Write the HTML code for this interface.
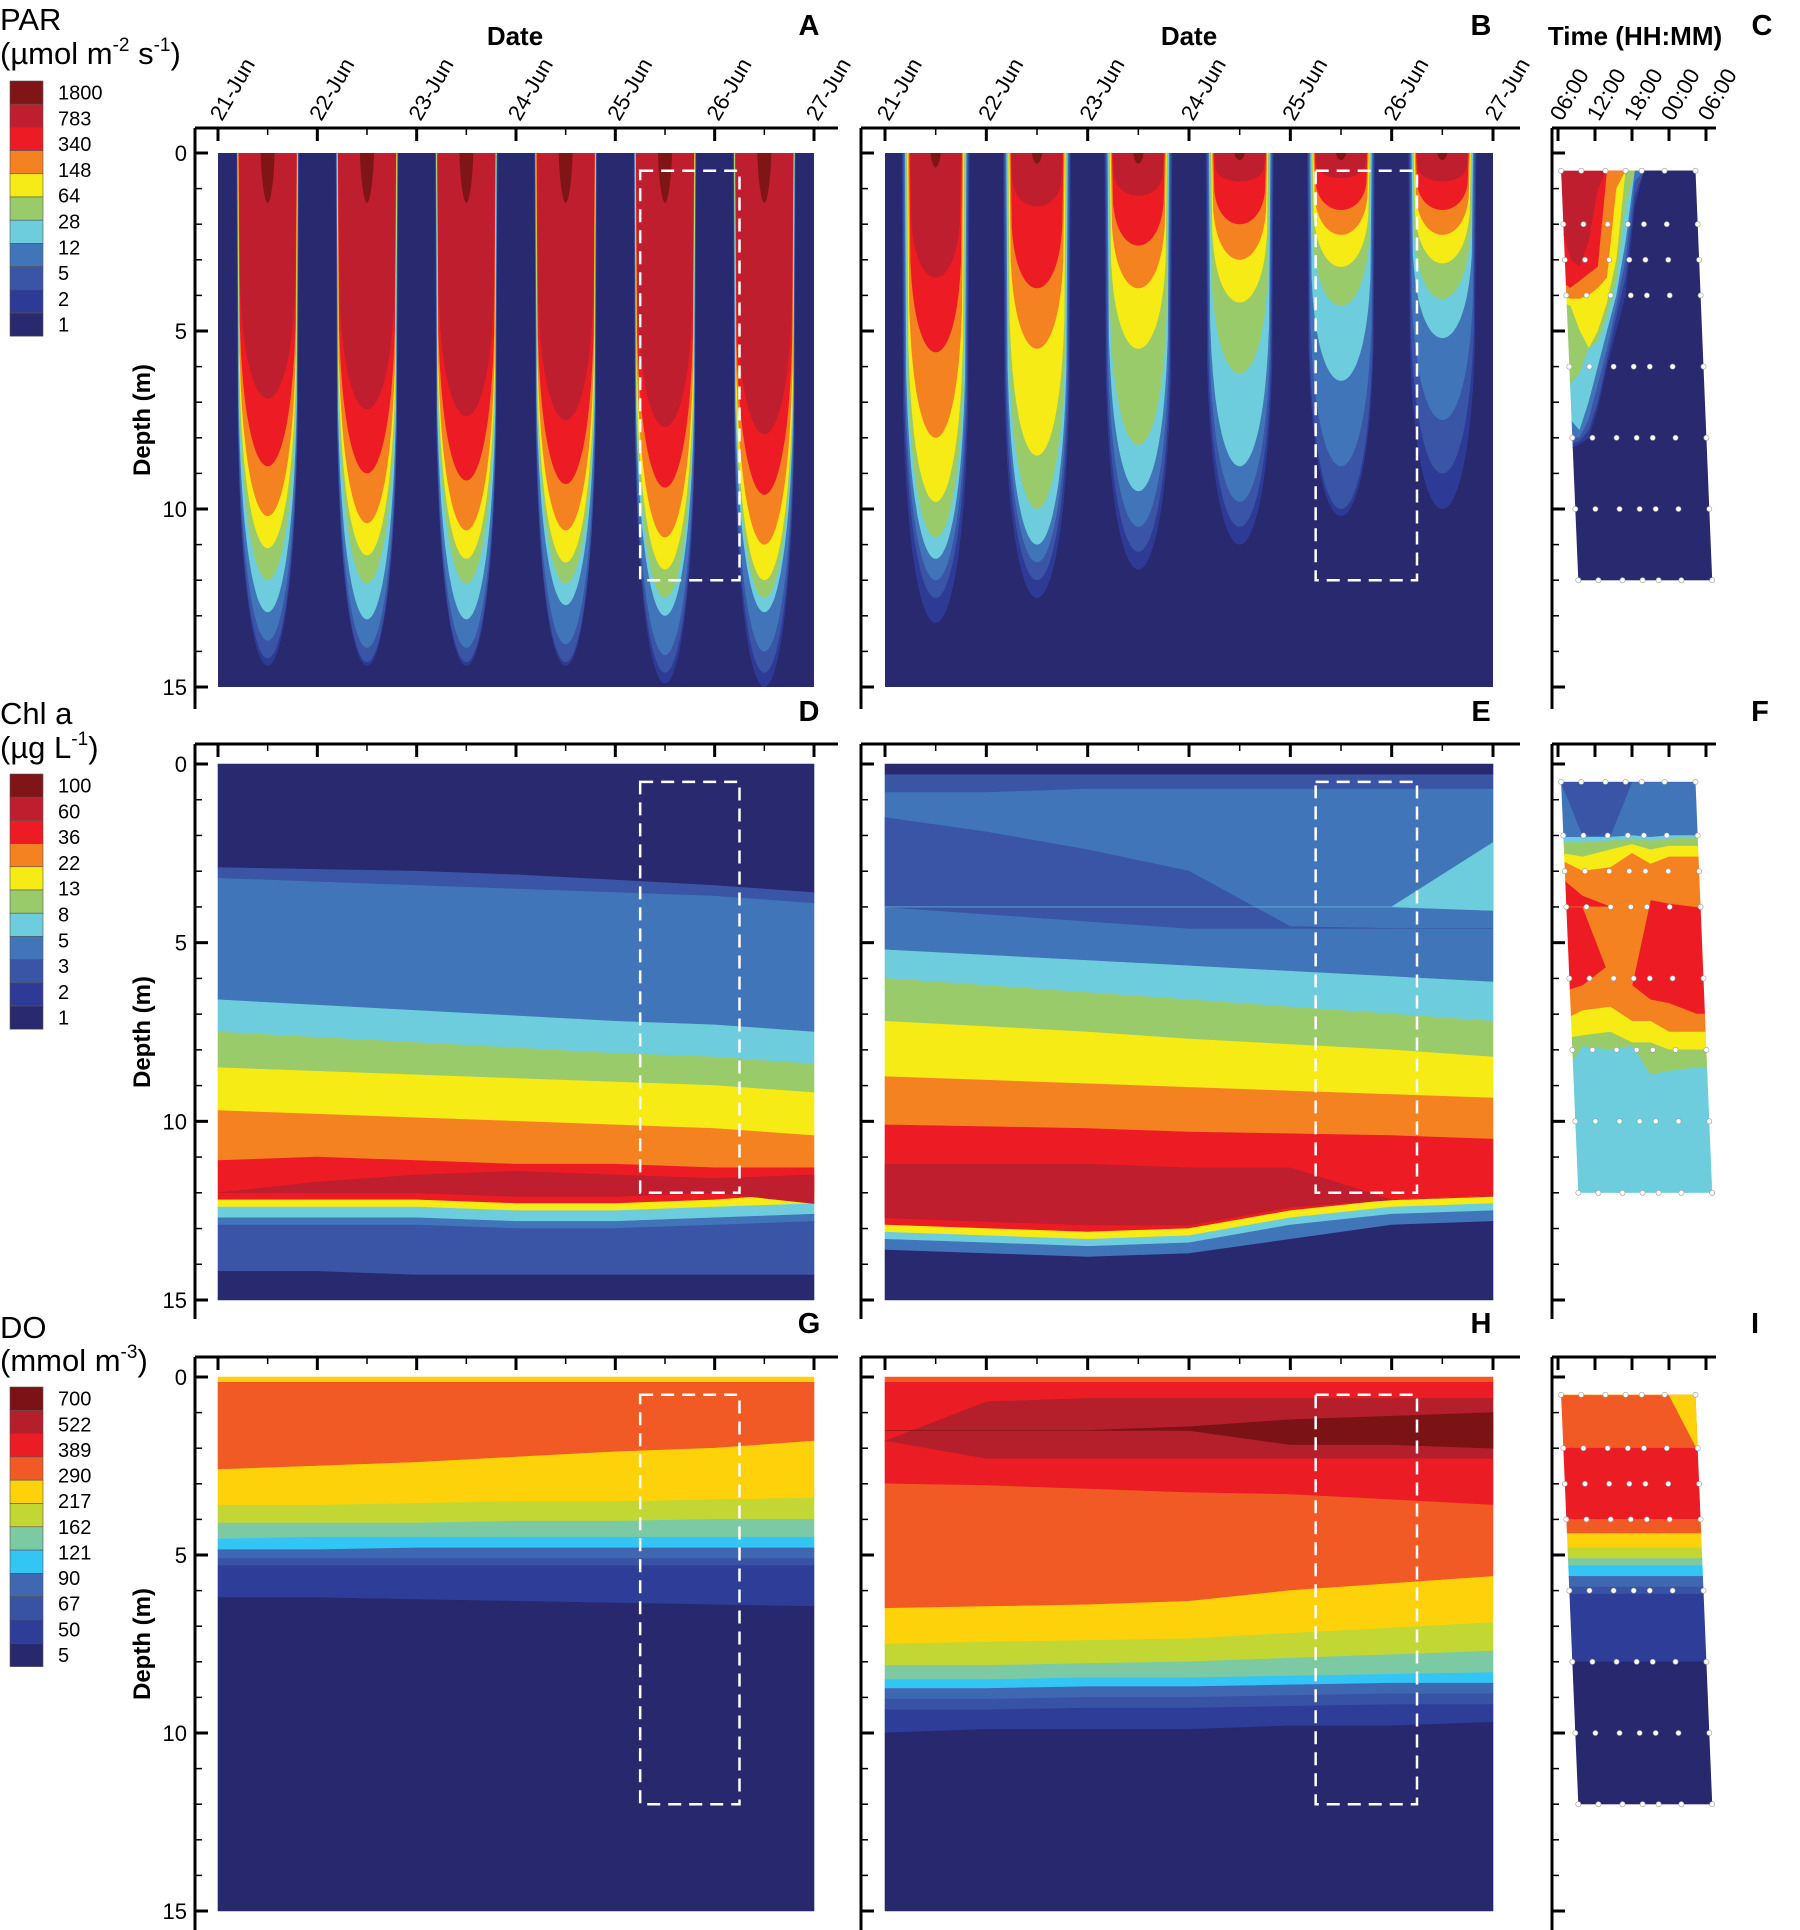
<!DOCTYPE html>
<html><head><meta charset="utf-8">
<style>
html,body{margin:0;padding:0;background:#fff;}
svg{display:block;font-family:"Liberation Sans",Arial,sans-serif;}
</style></head>
<body>
<svg id="fig" width="1800" height="1930" viewBox="0 0 1800 1930" xmlns="http://www.w3.org/2000/svg"></svg>
<script>
// ---------- DATA ----------
const parLabels = ["1800","783","340","148","64","28","12","5","2","1"];
const chlLabels = ["100","60","36","22","13","8","5","3","2","1"];
const doLabels = ["700","522","389","290","217","162","121","90","67","50","5"];
const parColors = ["#7f1517","#be1e2d","#ed1c24","#f58220","#f6eb14","#9acb6a","#6dcddc","#4175b9","#3a55a5","#2e3b96","#28296f"];
const chlColors = parColors;
const doColors = ["#7b1216","#b41f2b","#ec1c24","#f15a24","#fdd20a","#c2d733","#7ccaa4","#33c5f3","#4067b1","#3953a4","#2d3d98","#27286e"];
const dateLabels = ["21-Jun","22-Jun","23-Jun","24-Jun","25-Jun","26-Jun","27-Jun"];
const timeLabels = ["06:00","12:00","18:00","00:00","06:00"];
const depthTicks = [0,5,10,15];
const days = [0,1,2,3,4,5,6];
// PAR noon penetration depth (m) of each contour level, per day (levels 1800..1)
const parA = [
 [1.4,6.9,8.8,10.2,11.1,12.0,12.9,13.7,14.2,14.4],
 [1.4,7.2,9.0,10.4,11.3,12.1,13.1,13.9,14.3,14.4],
 [1.4,7.4,9.2,10.6,11.4,12.1,13.1,13.9,14.3,14.4],
 [1.4,7.5,9.3,10.6,11.5,12.1,12.7,13.8,14.3,14.4],
 [1.4,7.7,9.4,10.8,11.7,12.5,13.0,14.1,14.6,14.9],
 [1.4,7.9,9.6,11.0,12.0,12.5,12.9,14.0,14.6,15.0]
];
const parB = [
 [0.4,3.5,5.6,8.0,9.8,10.8,11.4,12.0,12.5,13.2],
 [0.3,1.5,3.8,5.5,8.5,10.0,11.0,11.5,12.0,12.5],
 [0.3,1.2,2.6,3.8,5.5,8.2,9.5,10.5,11.2,11.7],
 [0.2,0.8,2.0,3.0,4.2,6.2,8.8,9.8,10.5,11.0],
 [0.2,0.7,1.6,2.3,3.2,4.3,6.4,8.8,10.0,10.2],
 [0.2,0.8,1.6,2.3,3.1,4.1,5.2,7.5,9.0,10.0]
];
// Chl panel D: band lower boundaries (depth at each day) and colours
const chlDBands = [10,8,7,6,5,4,3,2,4,6,7,8,10];
const chlDBounds = [
 [2.9,2.95,3.0,3.1,3.25,3.4,3.6],
 [3.2,3.3,3.4,3.5,3.6,3.7,3.9],
 [6.6,6.75,6.9,7.05,7.2,7.3,7.5],
 [7.5,7.65,7.8,7.95,8.1,8.2,8.4],
 [8.5,8.6,8.7,8.8,8.9,9.0,9.2],
 [9.7,9.8,9.9,10.0,10.1,10.2,10.4],
 [11.1,11.0,11.1,11.2,11.2,11.3,11.3],
 [12.2,12.2,12.2,12.3,12.3,12.2,12.0],
 [12.4,12.4,12.4,12.5,12.5,12.4,12.3],
 [12.7,12.7,12.7,12.8,12.8,12.7,12.6],
 [12.9,12.9,12.9,13.0,13.0,12.9,12.8],
 [14.2,14.2,14.3,14.3,14.3,14.3,14.3]
];
const chlDPatchTop = [12.0,11.7,11.5,11.4,11.5,11.6,11.5];
const chlDPatchBot = [12.0,12.0,12.0,12.1,12.1,12.0,12.3];
const chlEBands = [10,8,7,6,5,4,3,2,4,6,7,10];
const chlEBounds = [
 [0.3,0.3,0.3,0.3,0.3,0.3,0.3],
 [0.8,0.8,0.7,0.7,0.7,0.7,0.7],
 [5.2,5.35,5.5,5.65,5.8,5.95,6.1],
 [6.0,6.2,6.4,6.6,6.8,7.0,7.2],
 [7.2,7.35,7.5,7.7,7.85,8.0,8.2],
 [8.75,8.85,8.95,9.05,9.15,9.25,9.35],
 [10.1,10.15,10.2,10.3,10.35,10.4,10.5],
 [12.9,13.0,13.1,13.0,12.5,12.2,12.1],
 [13.1,13.2,13.3,13.2,12.7,12.4,12.3],
 [13.3,13.4,13.5,13.4,12.9,12.6,12.5],
 [13.6,13.7,13.8,13.7,13.3,12.9,12.8]
];
const chlEPatchRedTop = [11.2,11.2,11.2,11.3,11.3,12.2,12.1];
const chlEPatchRedBot = [12.7,12.8,12.9,12.9,12.4,12.2,12.1];
const chlEPatchWedgeTop = [1.5,1.9,2.4,3.0,4.55,4.6,4.6];
const chlEPatchWedgeBot = [4.0,4.2,4.4,4.6,4.6,4.6,4.6];
const chlEPatchCyanTop = [4,4,4,4,4,4,2.2];
const chlEPatchCyanBot = [4,4,4,4,4,4,4.1];
// DO panels G/H
const doGBands = [4,3,4,5,6,7,8,9,10,11];
const doGBounds = [
 [0.15,0.15,0.15,0.15,0.15,0.15,0.15],
 [2.6,2.5,2.4,2.25,2.1,2.0,1.8],
 [3.6,3.6,3.55,3.5,3.5,3.45,3.4],
 [4.1,4.1,4.1,4.05,4.05,4.0,4.0],
 [4.55,4.5,4.5,4.5,4.5,4.5,4.5],
 [4.85,4.85,4.8,4.8,4.8,4.8,4.8],
 [5.1,5.1,5.1,5.1,5.1,5.1,5.1],
 [5.3,5.3,5.3,5.3,5.3,5.3,5.3],
 [6.2,6.2,6.25,6.3,6.35,6.4,6.45]
];
const doHBands = [3,2,1,2,3,4,5,6,7,8,9,10,11];
const doHBounds = [
 [0.15,0.15,0.15,0.15,0.15,0.15,0.15],
 [1.8,0.7,0.6,0.6,0.6,0.6,0.6],
 [1.8,2.3,2.3,2.3,2.3,2.3,2.3],
 [3.0,3.05,3.15,3.25,3.3,3.45,3.6],
 [6.5,6.45,6.4,6.3,6.0,5.8,5.6],
 [7.5,7.45,7.4,7.35,7.2,7.05,6.9],
 [8.1,8.1,8.05,8.0,7.9,7.8,7.7],
 [8.5,8.5,8.45,8.45,8.4,8.35,8.3],
 [8.75,8.75,8.7,8.7,8.65,8.6,8.6],
 [9.05,9.05,9.0,9.0,8.95,8.9,8.9],
 [9.35,9.35,9.3,9.3,9.25,9.2,9.2],
 [10.0,9.9,9.9,9.9,9.8,9.8,9.7]
];
const doHPatchTop = [1.5,1.5,1.5,1.4,1.2,1.1,1.0];
const doHPatchBot = [1.5,1.5,1.5,1.5,1.9,1.9,2.0];
// Profile panels (hours since 00:00 day 1)
const hoursC = [6.5,8,9.5,11,12.5,14,15.5,17,18.5,20,31];
const parCBands = [1,2,3,4,5,6,7,8,9,10];
const parCBounds = [
 [2.0,3.0,3.2,2.5,1.0,0.5,0.5,0.5,0.5,0.5,0.5],
 [3.6,3.8,3.6,3.4,3.2,0.5,0.5,0.5,0.5,0.5,0.5],
 [4.0,4.1,4.1,4.0,3.8,3.5,1.0,0.5,0.5,0.5,0.5],
 [4.2,4.3,5.0,5.5,5.0,4.2,3.0,0.5,0.5,0.5,0.5],
 [5.0,6.5,6.2,5.5,5.3,4.6,3.6,1.5,0.5,0.5,0.5],
 [6.5,7.5,7.8,7.0,6.0,5.0,4.0,2.5,0.5,0.5,0.5],
 [7.5,8.0,8.0,7.5,6.5,5.5,4.3,3.0,0.8,0.5,0.5],
 [7.8,8.2,8.1,7.8,7.0,5.8,4.6,3.5,1.2,0.5,0.5],
 [8.0,8.3,8.2,8.0,7.2,6.0,5.0,4.0,1.5,0.5,0.5]
];
const hoursF = [6.5,10,14.5,18,21,24,28.5,31];
const chlFBands = [7,6,5,4,3,2,3,4,5,6];
const chlFBounds = [
 [2.05,2.05,2.05,2.0,2.05,2.0,2.0,2.0],
 [2.2,2.2,2.15,2.1,2.15,2.1,2.05,2.05],
 [2.5,2.6,2.4,2.25,2.4,2.3,2.3,2.3],
 [2.7,3.0,2.9,2.5,2.8,2.6,2.6,2.6],
 [3.2,3.7,4.0,3.8,3.8,3.9,4.0,4.0],
 [6.4,6.2,5.6,6.2,6.6,6.7,7.0,7.0],
 [7.2,6.9,6.8,7.2,7.2,7.5,7.5,7.5],
 [7.7,7.6,7.5,7.8,7.8,8.0,8.0,8.0],
 [8.8,7.9,8.0,7.9,8.7,8.6,8.5,8.5]
];
const chlFPatchBlueBot = [0.5,2.0,2.0,0.5,0.5,0.5,0.5,0.5];
const chlFPatchOrTop = [4.0,4.0,4.0,3.8,3.8,3.9,4.0,4.0];
const chlFPatchOrBot = [4.0,4.0,6.0,6.2,3.8,3.9,4.0,4.0];
const doIBands = [3,2,3,4,5,6,7,8,9,10,11];
const doIBounds = [
 [2.0,2.0,2.0,2.0,2.0,2.0,2.0,2.0],
 [4.0,4.0,4.0,4.0,4.0,4.0,4.0,4.0],
 [4.4,4.4,4.4,4.4,4.4,4.4,4.4,4.4],
 [4.8,4.8,4.8,4.8,4.8,4.8,4.8,4.8],
 [5.1,5.1,5.1,5.1,5.1,5.1,5.1,5.1],
 [5.3,5.3,5.3,5.3,5.3,5.3,5.3,5.3],
 [5.6,5.6,5.6,5.6,5.6,5.6,5.6,5.6],
 [5.9,5.9,5.9,5.9,5.9,5.9,5.9,5.9],
 [6.1,6.1,6.1,6.1,6.1,6.1,6.1,6.1],
 [8.0,8.0,8.0,8.0,8.0,8.0,8.0,8.0]
];
const doIPatchYelBot = [0.5,0.5,0.5,0.5,0.5,0.5,2.0,2.0];
const profileDotDepths = [0.5,2,3,4,6,8,10,12];
const boxDays = [4.25,5.25];
const boxDepths = [0.5,12];

// ---------- LAYOUT ----------
const NS = "http://www.w3.org/2000/svg";
const svg = document.getElementById('fig');
const rows = [{axis:128,y0:153,y15:687,bot:709},{axis:744,y0:764,y15:1300,bot:1319},{axis:1357,y0:1377,y15:1911,bot:1930}];
const colA = {frame:195,x0:218,x1:814,end:838};
const colB = {frame:861,x0:885,x1:1493,end:1520};
const colC = {frame:1552,h6:1558,pxh:37/6,end:1716};
function el(tag, attrs, parent){const e=document.createElementNS(NS,tag);for(const k in attrs)e.setAttribute(k,attrs[k]);(parent||svg).appendChild(e);return e;}
function yS(r,d){return rows[r].y0 + d*(rows[r].y15-rows[r].y0)/15;}
function xD(c,day){return c.x0 + day*(c.x1-c.x0)/6;}
function xH(h){return colC.h6 + (h-6)*colC.pxh;}

function drawBands(g, r, xs, xfun, bandColors, bounds, palette, topDepth, botDepth){
  for(let i=0;i<bandColors.length;i++){
    const top = i===0 ? xs.map(()=>topDepth) : bounds[i-1];
    const bot = i<bounds.length ? bounds[i] : xs.map(()=>botDepth);
    drawPatch(g, r, xs, xfun, top, bot, palette[bandColors[i]], 'band-'+i);
  }
}
function drawPatch(g, r, xs, xfun, top, bot, fill, name){
  let d='';
  xs.forEach((x,j)=>{d+=(j?'L':'M')+xfun(x).toFixed(1)+','+yS(r,top[j]).toFixed(1);});
  for(let j=xs.length-1;j>=0;j--){d+='L'+xfun(xs[j]).toFixed(1)+','+yS(r,bot[j]).toFixed(1);}
  const p = el('path',{d:d+'Z',fill:fill,stroke:fill,'stroke-width':0.6},g);
  
  
}
function drawU(g, r, c, noonDay, depth, hw, fill, expo){
  let d='';
  const N=48;
  for(let i=0;i<=N;i++){
    const u=-1+2*i/N;
    const z=depth*Math.pow(Math.max(0,Math.cos(Math.PI*u/2)),expo);
    d+=(i?'L':'M')+xD(c,noonDay+u*hw).toFixed(1)+','+yS(r,z).toFixed(1);
  }
  const p = el('path',{d:d+'Z',fill:fill},g);
  
  
}
function dataRect(g,r,c,fill){
  const p=el('rect',{x:c.x0,y:yS(r,0),width:c.x1-c.x0,height:yS(r,15)-yS(r,0),fill:fill},g);
  
  
}
function dashedBox(g,r,c){
  const p=el('rect',{x:xD(c,boxDays[0]),y:yS(r,boxDepths[0]),width:xD(c,boxDays[1])-xD(c,boxDays[0]),height:yS(r,boxDepths[1])-yS(r,boxDepths[0]),fill:'none',stroke:'#fff','stroke-width':2.5,'stroke-dasharray':'13 8'},g);
  
  
}
function topAxisDays(r,c,labels){
  const g=el('g',{});
  
  
  const y=rows[r].axis;
  el('line',{x1:c.frame,y1:y,x2:c.end,y2:y,stroke:'#000','stroke-width':3},g);
  for(let k=0;k<=12;k++){
    const x=xD(c,k/2);
    el('line',{x1:x,y1:y,x2:x,y2:y+(k%2?7:13),stroke:'#000','stroke-width':k%2?1.5:3},g);
  }
  if(labels){
    dateLabels.forEach((t,k)=>{
      const x=xD(c,days[k])+4;
      const tx=el('text',{x:x,y:y-6,'font-size':22,transform:`rotate(-60 ${x} ${y-6})`},g);
      tx.textContent=t;
      
      
    });
  }
}
function topAxisTime(r,labels){
  const g=el('g',{});
  
  
  const y=rows[r].axis;
  el('line',{x1:colC.frame,y1:y,x2:colC.end,y2:y,stroke:'#000','stroke-width':3},g);
  for(let k=0;k<timeLabels.length;k++){
    const x=xH(6+6*k);
    el('line',{x1:x,y1:y,x2:x,y2:y+13,stroke:'#000','stroke-width':3},g);
    if(labels){
      const tx=el('text',{x:x+4,y:y-6,'font-size':22,transform:`rotate(-60 ${x+4} ${y-6})`},g);
      tx.textContent=timeLabels[k];
      
      
    }
  }
}
function leftAxis(r,xf,labels){
  const g=el('g',{});
  
  
  el('line',{x1:xf,y1:rows[r].axis,x2:xf,y2:rows[r].bot,stroke:'#000','stroke-width':3},g);
  for(let d=0;d<=15;d++){
    const y=yS(r,d);const major=d%5===0;
    el('line',{x1:xf,y1:y,x2:xf+(major?13:7),y2:y,stroke:'#000','stroke-width':major?3:1.5},g);
  }
  if(labels){
    depthTicks.forEach(d=>{
      const t=el('text',{x:xf-8,y:yS(r,d)+8,'font-size':22,'text-anchor':'end'},g);
      t.textContent=String(d);
      
      
    });
    const cy=(yS(r,0)+yS(r,15))/2;
    const t=el('text',{x:150,y:cy,'font-size':24,'font-weight':'bold','text-anchor':'middle',transform:`rotate(-90 150 ${cy})`},g);
    t.textContent='Depth (m)';
    
    
  }
}
function panelLetter(x,y,t){
  const e=el('text',{x:x,y:y,'font-size':29,'font-weight':'bold','text-anchor':'middle'});
  e.textContent=t;
  
  
}
function legend(x,top,colors,labels,title1,title1y,title2html,title2y,name){
  const g=el('g',{});
  
  
  const t1=el('text',{x:0,y:title1y,'font-size':31},g);t1.textContent=title1;
  const t2=el('text',{x:0,y:title2y,'font-size':31},g);t2.innerHTML=title2html;
  const h=colors.length===11?23.2:23.3;
  colors.forEach((c,i)=>{
    const r=el('rect',{x:x,y:top+i*h,width:33,height:h,fill:c,stroke:'#555','stroke-width':0.6},g);
    
    
  });
  const first=top+h/2, last=top+(colors.length-0.5)*h;
  labels.forEach((l,i)=>{
    const y=first+(last-first)*i/(labels.length-1);
    const t=el('text',{x:x+48,y:y+7,'font-size':20},g);
    t.textContent=l;
    
    
  });
}

// ---------- PANELS A, B (PAR) ----------
function parPanel(r,c,data,hwOuter,hwInner,hwTop,name){
  const g=el('g',{});
  
  
  dataRect(g,r,c,parColors[10]);
  data.forEach((lv,dayIdx)=>{
    for(let k=lv.length-1;k>=0;k--){
      const hw = k===0 ? hwTop : hwInner + (hwOuter-hwInner)*(k-1)/8;
      drawU(g,r,c,days[dayIdx]+0.5,lv[k],hw,parColors[k], k===0?0.6:0.22);
    }
  });
  dashedBox(g,r,c);
}
parPanel(0,colA,parA,0.315,0.29,0.07,'panel-a-par-chart');
parPanel(0,colB,parB,0.335,0.25,0.05,'panel-b-par-chart');

// ---------- PANELS D, E, G, H ----------
function bandPanel(r,c,bands,bounds,palette,patches,name){
  const g=el('g',{});
  
  
  const xf=d=>xD(c,d);
  drawBands(g,r,days,xf,bands,bounds,palette,0,15);
  patches.forEach(p=>drawPatch(g,r,days,xf,p[0],p[1],palette[p[2]],'patch'));
  dashedBox(g,r,c);
}
bandPanel(1,colA,chlDBands,chlDBounds,chlColors,[[chlDPatchTop,chlDPatchBot,1]],'panel-d-chl-chart');
bandPanel(1,colB,chlEBands,chlEBounds,chlColors,[[chlEPatchRedTop,chlEPatchRedBot,1],[chlEPatchWedgeTop,chlEPatchWedgeBot,8],[chlEPatchCyanTop,chlEPatchCyanBot,6]],'panel-e-chl-chart');
bandPanel(2,colA,doGBands,doGBounds,doColors,[],'panel-g-do-chart');
bandPanel(2,colB,doHBands,doHBounds,doColors,[[doHPatchTop,doHPatchBot,0]],'panel-h-do-chart');

// ---------- PROFILE PANELS C, F, I ----------
const quadHours = [6.5,28.3,31.0,9.3];
const quadDepths = [0.5,0.5,12,12];
function profilePanel(r,hours,bands,bounds,palette,patches,name){
  const g=el('g',{});
  
  
  const cid='clip'+r;
  const cp=el('clipPath',{id:cid},g);
  const pts=quadHours.map((h,i)=>xH(h).toFixed(1)+','+yS(r,quadDepths[i]).toFixed(1)).join(' ');
  el('polygon',{points:pts},cp);
  const inner=el('g',{'clip-path':`url(#${cid})`},g);
  drawBands(inner,r,hours,xH,bands,bounds,palette,0.5,12);
  patches.forEach(p=>drawPatch(inner,r,hours,xH,p[0],p[1],palette[p[2]],'patch'));
  const fr=[0,0.15,0.33,0.48,0.6,0.77,1];
  profileDotDepths.forEach(d=>{
    const t=(d-0.5)/11.5;
    const hl=quadHours[0]+(quadHours[3]-quadHours[0])*t, hr=quadHours[1]+(quadHours[2]-quadHours[1])*t;
    fr.forEach(f=>{
      const c=el('circle',{cx:xH(hl+(hr-hl)*f),cy:yS(r,d),r:2.6,fill:'#fff',stroke:'#999','stroke-width':0.6},g);
      
      
    });
  });
}
profilePanel(0,hoursC,parCBands,parCBounds,parColors,[],'panel-c-par-profile');
profilePanel(1,hoursF,chlFBands,chlFBounds,chlColors,[[hoursF.map(()=>0.5),chlFPatchBlueBot,8],[chlFPatchOrTop,chlFPatchOrBot,3]],'panel-f-chl-profile');
profilePanel(2,hoursF,doIBands,doIBounds,doColors,[[hoursF.map(()=>0.5),doIPatchYelBot,4]],'panel-i-do-profile');

// ---------- AXES ----------
[0,1,2].forEach(r=>{
  topAxisDays(r,colA,r===0);
  topAxisDays(r,colB,r===0);
  topAxisTime(r,r===0);
  leftAxis(r,colA.frame,true);
  leftAxis(r,colB.frame,false);
  leftAxis(r,colC.frame,false);
});
function title(x,y,t,name){const e=el('text',{x:x,y:y,'font-size':26,'font-weight':'bold','text-anchor':'middle'});e.textContent=t;}
title(515,45,'Date','x-axis-title-a');
title(1189,45,'Date','x-axis-title-b');
title(1635,45,'Time (HH:MM)','x-axis-title-c');
panelLetter(809,35,'A');panelLetter(1481,35,'B');panelLetter(1762,35,'C');
panelLetter(809,721,'D');panelLetter(1481,721,'E');panelLetter(1760,721,'F');
panelLetter(809,1333,'G');panelLetter(1481,1333,'H');panelLetter(1755,1333,'I');

legend(10,81,parColors,parLabels,'PAR',30,'(µmol m<tspan font-size="19" dy="-13">-2</tspan><tspan dy="13"> s</tspan><tspan font-size="19" dy="-13">-1</tspan><tspan dy="13">)</tspan>',64,'par-legend');
legend(10,774,chlColors,chlLabels,'Chl a',724,'(µg L<tspan font-size="19" dy="-13">-1</tspan><tspan dy="13">)</tspan>',758,'chl-legend');
legend(10,1387,doColors,doLabels,'DO',1338,'(mmol m<tspan font-size="19" dy="-13">-3</tspan><tspan dy="13">)</tspan>',1371,'do-legend');
</script>
</body></html>
